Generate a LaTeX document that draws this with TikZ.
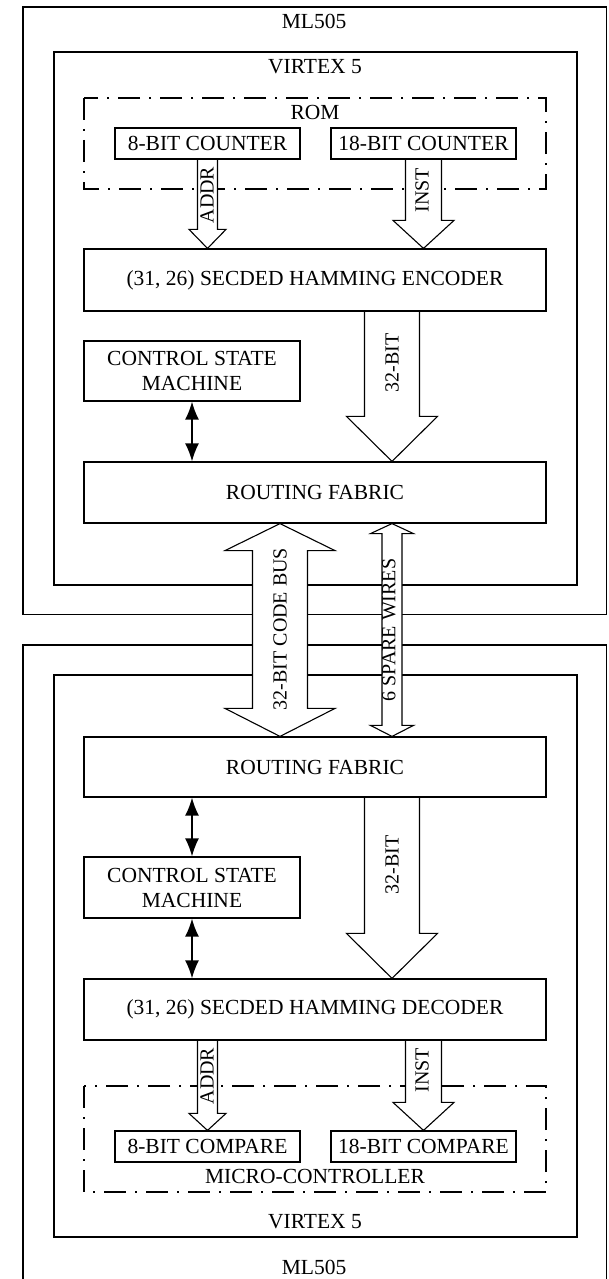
\documentclass[tikz,border=0pt]{standalone}
\usepackage{fontspec}
\setmainfont{Liberation Serif}
\usetikzlibrary{positioning,arrows.meta,calc}

\tikzset{
  blk/.style={draw,line width=1.2pt,inner sep=0pt,font=\fontsize{21.5}{25}\selectfont,align=center},
  txt/.style={font=\fontsize{21.5}{25}\selectfont},
  lbl/.style={font=\fontsize{20}{24}\selectfont,rotate=90,inner sep=0pt},
  frame/.style={line width=1.2pt},
  dashbox/.style={line width=2pt,dash pattern=on 22pt off 9pt on 2pt off 9pt},
  busline/.style={fill=white,line width=1.1pt,line join=miter},
  ctrl/.style={line width=1.6pt,{Latex[length=18pt,width=14pt]}-{Latex[length=18pt,width=14pt]}}
}

% from, to, shaft half width, head half width, head length
\newcommand{\busarrow}[5]{\draw[busline] let \p1=(#1), \p2=(#2) in (\x1-#3pt,\y1-0.6pt) -- (\x1-#3pt,\y2+#5pt) -- (\x1-#4pt,\y2+#5pt) -- (\x1,\y2) -- (\x1+#4pt,\y2+#5pt) -- (\x1+#3pt,\y2+#5pt) -- (\x1+#3pt,\y1-0.6pt);}
% from, to, shaft half width, head half width, upper and lower head length
\newcommand{\wirearrow}[6]{\draw[busline] let \p1=(#1), \p2=(#2) in (\x1,\y1) -- (\x1+#4pt,\y1-#5pt) -- (\x1+#3pt,\y1-#5pt) -- (\x1+#3pt,\y2+#6pt) -- (\x1+#4pt,\y2+#6pt) -- (\x1,\y2) -- (\x1-#4pt,\y2+#6pt) -- (\x1-#3pt,\y2+#6pt) -- (\x1-#3pt,\y1-#5pt) -- (\x1-#4pt,\y1-#5pt) -- cycle;}

\begin{document}
\begin{tikzpicture}[x=1pt,y=-1pt]
  \useasboundingbox (0,0) rectangle (608,1279);
  \draw[frame] (23,7) rectangle (606.5,614.5);
  \draw[frame] (54,52) rectangle (577,585);
  \draw[frame] (23,645) rectangle (606.5,1290);
  \draw[frame] (54,675) rectangle (577,1237);
  \node[txt] (mlA) at (314,21) {ML505};
  \node[txt] (vxA) at (315,67) {VIRTEX 5};
  \node[txt] (rom) at (315,112) {ROM};
  \node[txt] (mc) at (315,1176) {MICRO-CONTROLLER};
  \node[txt] (vxB) at (315,1222) {VIRTEX 5};
  \node[txt] (mlB) at (314,1267) {ML505};
  \draw[dashbox] (84,98) rectangle (546,189);
  \draw[dashbox] (84,1086) rectangle (546,1192);

  \node[blk,minimum width=185pt,minimum height=31pt] (cnt8) at (207.5,143.5) {8-BIT COUNTER};
  \node[blk,minimum width=185pt,minimum height=31pt] (cnt18) at (423.5,143.5) {18-BIT COUNTER};
  \node[blk,minimum width=462pt,minimum height=62pt] (enc) at (315,280) {(31, 26) SECDED HAMMING ENCODER};
  \node[blk,minimum width=216pt,minimum height=60pt] (csmA) at (192,371) {CONTROL STATE\\MACHINE};
  \node[blk,minimum width=462pt,minimum height=61pt] (rfA) at (315,492.5) {ROUTING FABRIC};
  \node[blk,minimum width=462pt,minimum height=60pt] (rfB) at (315,767) {ROUTING FABRIC};
  \node[blk,minimum width=216pt,minimum height=61pt] (csmB) at (192,887.5) {CONTROL STATE\\MACHINE};
  \node[blk,minimum width=462pt,minimum height=61pt] (dec) at (315,1009.5) {(31, 26) SECDED HAMMING DECODER};
  \node[blk,minimum width=185pt,minimum height=31pt] (cmp8) at (207.5,1146.5) {8-BIT COMPARE};
  \node[blk,minimum width=185pt,minimum height=31pt] (cmp18) at (423.5,1146.5) {18-BIT COMPARE};

  \coordinate (busx) at (392,0);
  \coordinate (codex) at (280,0);
  \busarrow{cnt8.south}{enc.north}{10}{18.5}{19}
  \busarrow{cnt18.south}{enc.north}{18}{30.5}{28}
  \busarrow{enc.south -| busx}{rfA.north}{27.5}{45.5}{45}
  \wirearrow{rfA.south -| codex}{rfB.north}{27.5}{55}{27}{28}
  \wirearrow{rfA.south -| busx}{rfB.north}{10}{21.5}{10}{11}
  \busarrow{rfB.south -| busx}{dec.north}{27.5}{45.5}{45}
  \busarrow{dec.south -| cmp8}{cmp8.north}{10}{18.5}{17}
  \busarrow{dec.south -| cmp18}{cmp18.north}{18}{30.5}{28}

  \draw[ctrl] (csmA.south) -- (csmA.south |- rfA.north);
  \draw[ctrl] (rfB.south -| csmB) -- (csmB.north);
  \draw[ctrl] (csmB.south) -- (csmB.south |- dec.north);

  \node[lbl] (addrA) at (207,195) {ADDR};
  \node[lbl] (instA) at (422,190) {INST};
  \node[lbl] (bitA) at (392,363) {32-BIT};
  \node[lbl] (codebus) at (280,629) {32-BIT CODE BUS};
  \node[lbl] (spare) at (389,630) {6 SPARE WIRES};
  \node[lbl] (bitB) at (392,865) {32-BIT};
  \node[lbl] (addrB) at (207,1076) {ADDR};
  \node[lbl] (instB) at (422,1070) {INST};
\end{tikzpicture}
\end{document}
